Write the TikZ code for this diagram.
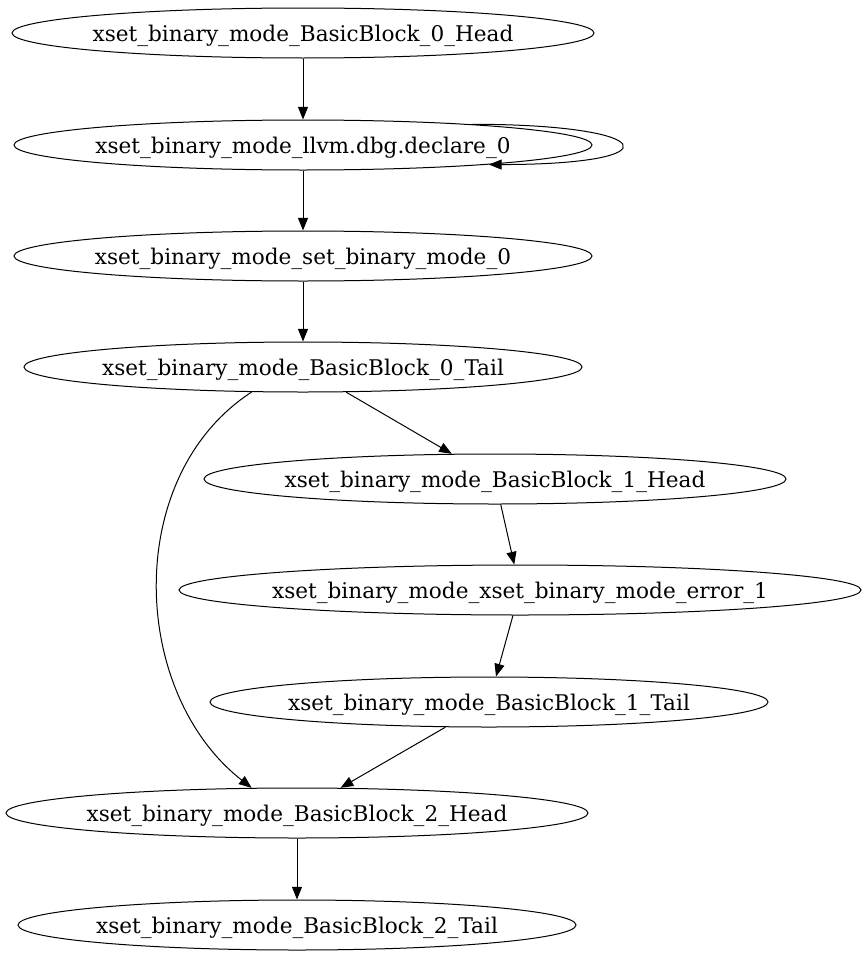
\documentclass[tikz,border=0pt]{standalone}
\usepackage{fontspec}
\setmainfont{DejaVu Serif}
\usetikzlibrary{calc,shapes.geometric,arrows.meta}
\def\blocknode{\node[ellipse,draw=black,line width=0.75pt,inner sep=0pt,minimum height=37.5pt]}
\def\drawflow{\draw[line width=0.75pt,-{Triangle[length=9.5pt,width=7.5pt]}]}
\newcommand{\blocklabel}[1]{\makebox[0pt]{\raisebox{-2pt}[\height][\depth]{#1}}}

\begin{document}
\begin{tikzpicture}[x=0.75pt,y=0.75pt,font=\fontsize{16.2}{19}\selectfont]
\useasboundingbox (0,0) rectangle (867,-960);

% -------- basic block 0 ---------
\blocknode[minimum width=436.5pt] (head0) at (303,-33) {\blocklabel{xset\_binary\_mode\_BasicBlock\_0\_Head}};
\blocknode[minimum width=433.5pt] (dbg) at (303,-145) {\blocklabel{xset\_binary\_mode\_llvm.dbg.declare\_0}};
\blocknode[minimum width=433.5pt] (setmode) at (303,-256) {\blocklabel{xset\_binary\_mode\_set\_binary\_mode\_0}};
\blocknode[minimum width=418.5pt] (tail0) at (303,-367) {\blocklabel{xset\_binary\_mode\_BasicBlock\_0\_Tail}};

% -------- basic block 1 ---------
\blocknode[minimum width=436.5pt] (head1) at (495,-479) {\blocklabel{xset\_binary\_mode\_BasicBlock\_1\_Head}};
\blocknode[minimum width=511.5pt] (err1) at (520,-590) {\blocklabel{xset\_binary\_mode\_xset\_binary\_mode\_error\_1}};
\blocknode[minimum width=418.5pt] (tail1) at (489,-702) {\blocklabel{xset\_binary\_mode\_BasicBlock\_1\_Tail}};

% -------- basic block 2 ---------
\blocknode[minimum width=436.5pt] (head2) at (297,-813) {\blocklabel{xset\_binary\_mode\_BasicBlock\_2\_Head}};
\blocknode[minimum width=418.5pt] (tail2) at (297,-925) {\blocklabel{xset\_binary\_mode\_BasicBlock\_2\_Tail}};

% Now for the edges
\drawflow (head0) -- (dbg);
\drawflow (dbg.7) to[out=0,in=0,looseness=11] (dbg.354); % self loop
\drawflow (dbg) -- (setmode);
\drawflow (setmode) -- (tail0);
\drawflow (tail0) -- (head1);
\drawflow (tail0.206) to[out=213,in=142] (head2.151); % skip past block 1
\drawflow (head1) -- (err1);
\drawflow (err1) -- (tail1);
\drawflow (tail1) -- (head2);
\drawflow (head2) -- (tail2);
\end{tikzpicture}
\end{document}
